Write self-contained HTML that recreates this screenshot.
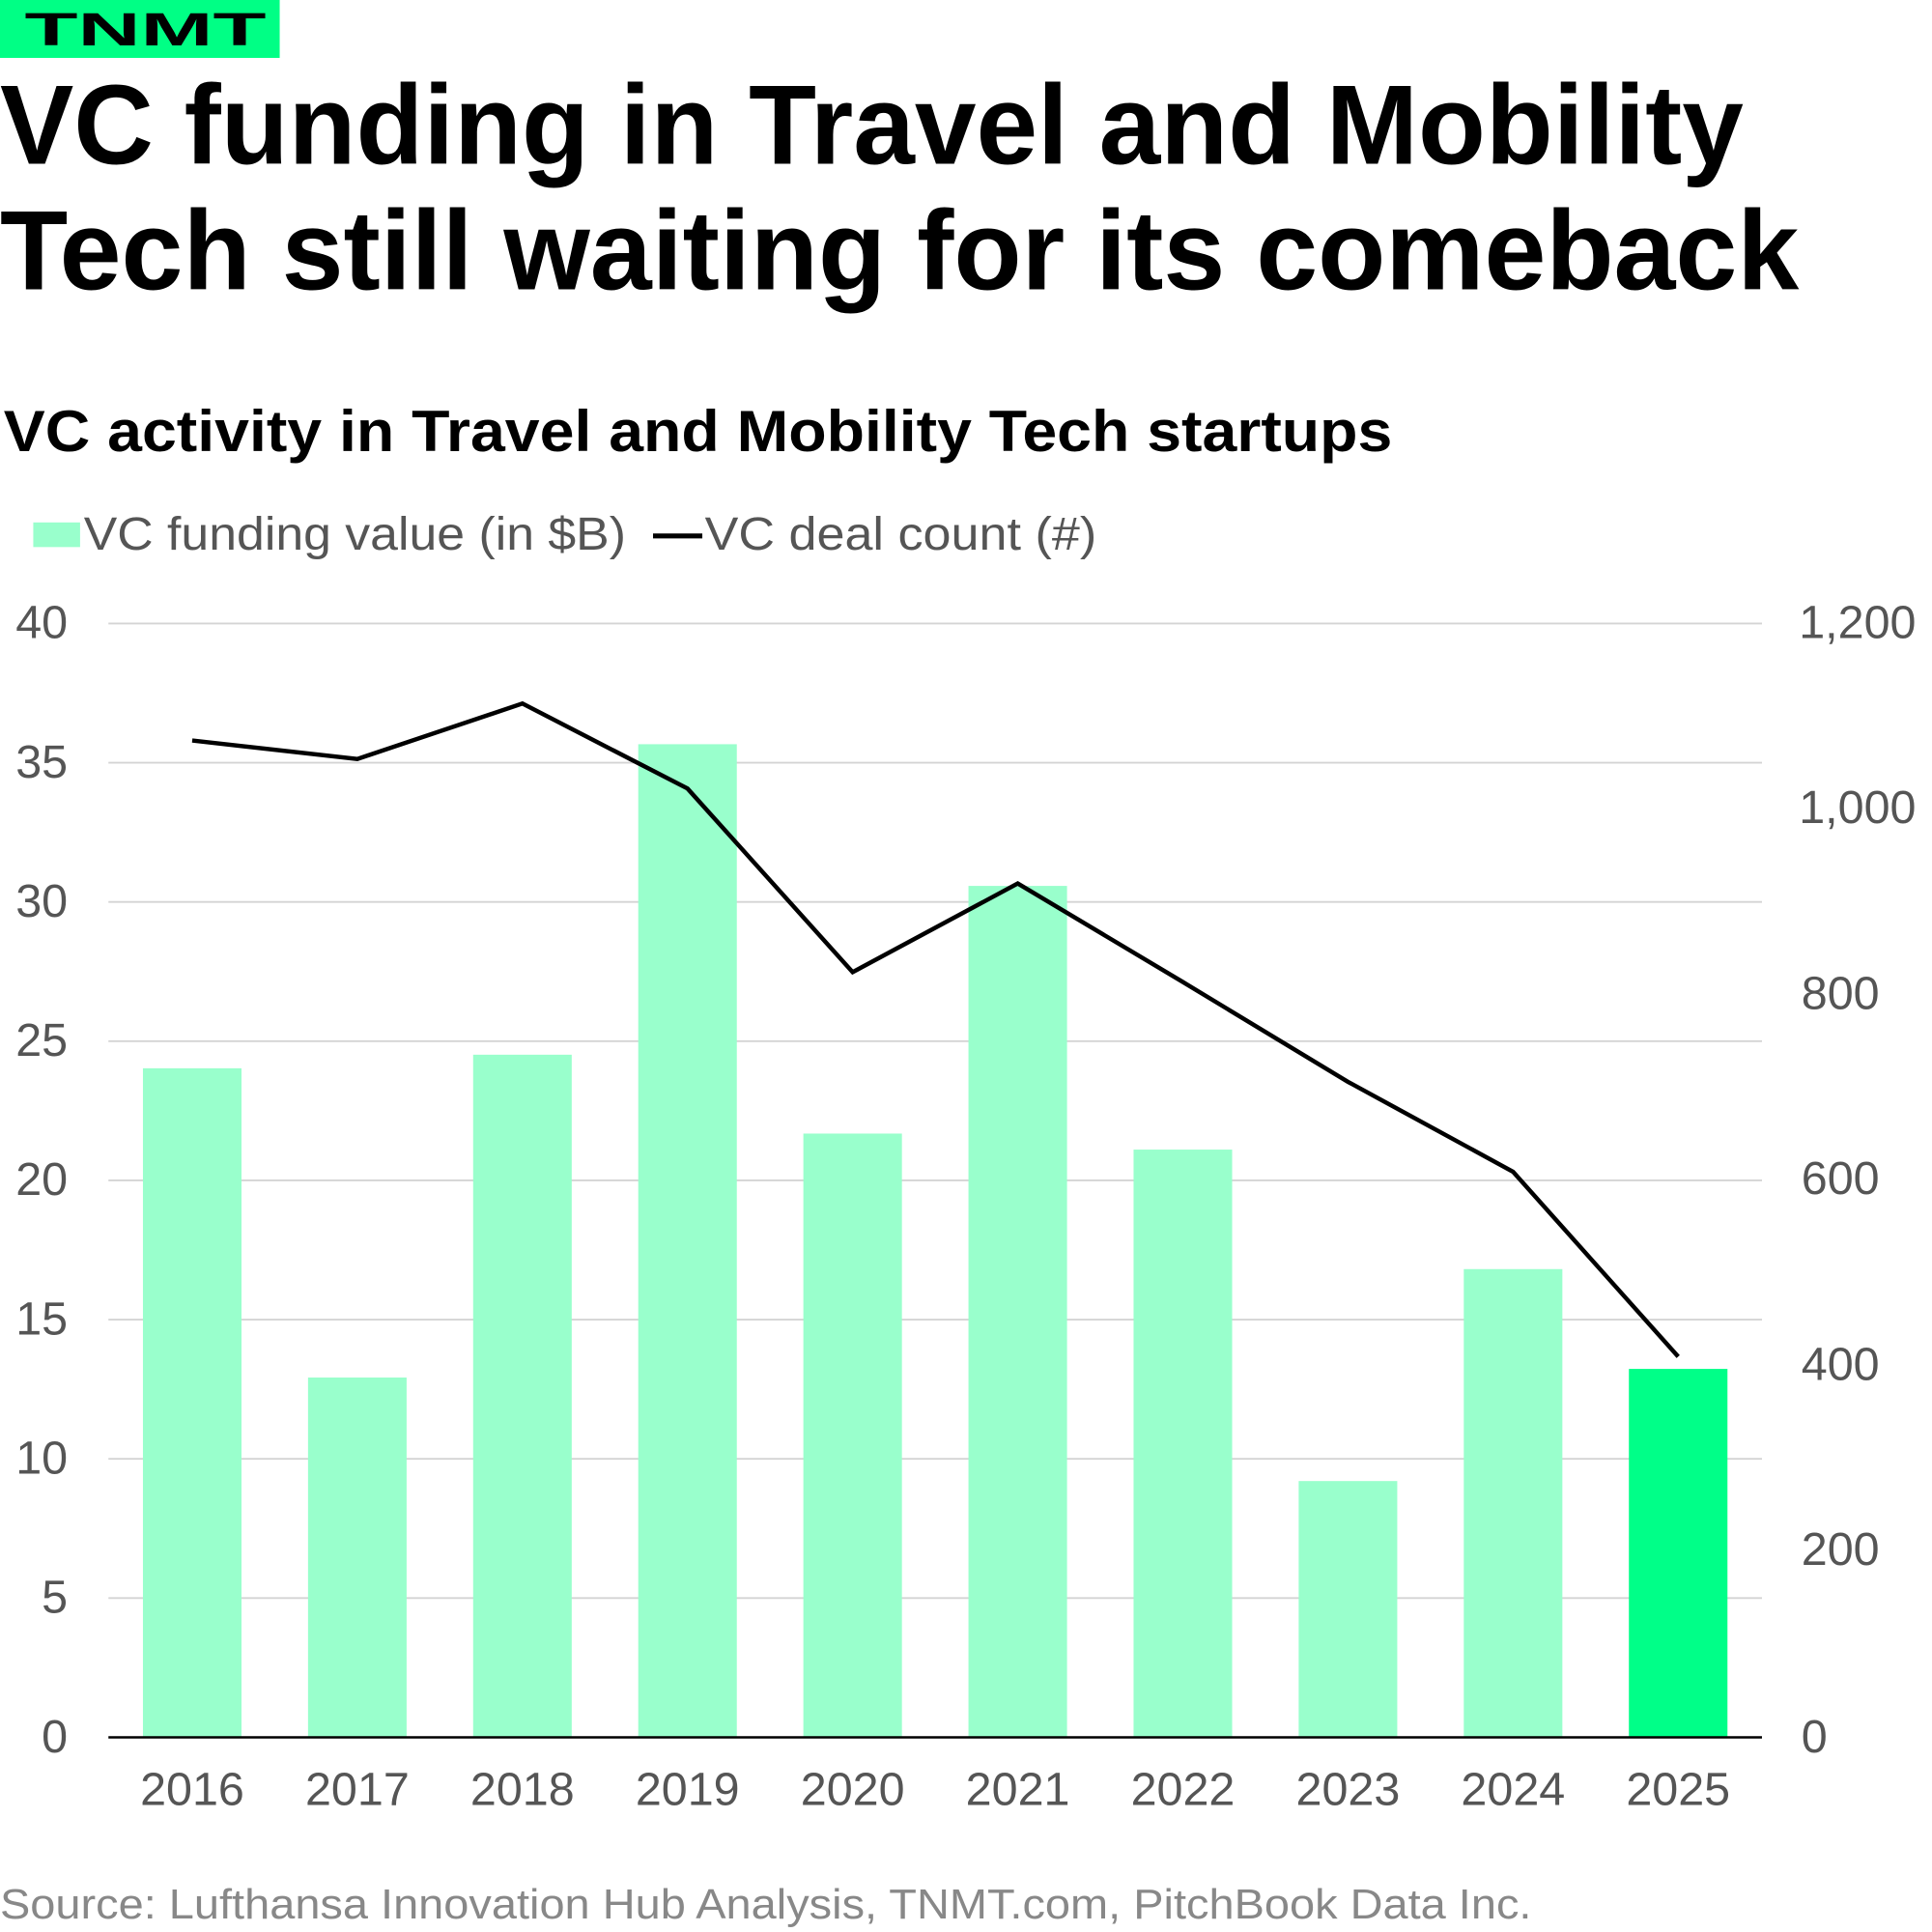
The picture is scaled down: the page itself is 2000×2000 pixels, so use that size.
<!DOCTYPE html>
<html><head><meta charset="utf-8"><style>html,body{margin:0;padding:0;background:#fff}svg{display:block}</style></head>
<body>
<svg width="2000" height="2000" viewBox="0 0 1568 1568" xmlns="http://www.w3.org/2000/svg" font-family="Liberation Sans, sans-serif">
<rect x="0" y="0" width="227" height="47" fill="#00ff85"/>
<text x="20" y="37" font-size="38" font-weight="bold" textLength="196" lengthAdjust="spacingAndGlyphs" fill="#000">TNMT</text>
<text x="0" y="133" font-size="92" font-weight="bold" textLength="1415" lengthAdjust="spacingAndGlyphs">VC funding in Travel and Mobility</text>
<text x="0" y="235" font-size="92" font-weight="bold" textLength="1460" lengthAdjust="spacingAndGlyphs">Tech still waiting for its comeback</text>
<text x="3" y="366" font-size="47" font-weight="bold" textLength="1127" lengthAdjust="spacingAndGlyphs">VC activity in Travel and Mobility Tech startups</text>
<rect x="27" y="424" width="38" height="20" fill="#99ffcc"/>
<text x="68" y="446" font-size="38" fill="#555" textLength="440" lengthAdjust="spacingAndGlyphs">VC funding value (in $B)</text>
<line x1="530" y1="435" x2="570" y2="435" stroke="#000" stroke-width="4"/>
<text x="572" y="446" font-size="38" fill="#555" textLength="318" lengthAdjust="spacingAndGlyphs">VC deal count (#)</text>
<g stroke="#d4d4d4" stroke-width="1.5">
<line x1="88" y1="506" x2="1430" y2="506"/><line x1="88" y1="619" x2="1430" y2="619"/>
<line x1="88" y1="732" x2="1430" y2="732"/><line x1="88" y1="845" x2="1430" y2="845"/>
<line x1="88" y1="958" x2="1430" y2="958"/><line x1="88" y1="1071" x2="1430" y2="1071"/>
<line x1="88" y1="1184" x2="1430" y2="1184"/><line x1="88" y1="1297" x2="1430" y2="1297"/>
</g>
<g fill="#99ffcc">
<rect x="116" y="867" width="80" height="543"/>
<rect x="250" y="1118" width="80" height="292"/>
<rect x="384" y="856" width="80" height="554"/>
<rect x="518" y="604" width="80" height="806"/>
<rect x="652" y="920" width="80" height="490"/>
<rect x="786" y="719" width="80" height="691"/>
<rect x="920" y="933" width="80" height="477"/>
<rect x="1054" y="1202" width="80" height="208"/>
<rect x="1188" y="1030" width="80" height="380"/>
</g>
<rect x="1322" y="1111" width="80" height="299" fill="#00ff88"/>
<line x1="88" y1="1410" x2="1430" y2="1410" stroke="#000" stroke-width="2"/>
<polyline fill="none" stroke="#000" stroke-width="3.5" points="156,601 290,616 424,571 558,640 692,789 826,717 960,797 1094,878 1228,951 1362,1101"/>
<g font-size="38" fill="#555" text-anchor="end">
<text x="55" y="518">40</text><text x="55" y="631">35</text><text x="55" y="744">30</text>
<text x="55" y="857">25</text><text x="55" y="970">20</text><text x="55" y="1083">15</text>
<text x="55" y="1196">10</text><text x="55" y="1309">5</text><text x="55" y="1422">0</text>
</g>
<g font-size="38" fill="#555">
<text x="1460" y="518">1,200</text><text x="1460" y="668">1,000</text><text x="1462" y="819">800</text>
<text x="1462" y="969">600</text><text x="1462" y="1120">400</text><text x="1462" y="1270">200</text>
<text x="1462" y="1422">0</text>
</g>
<g font-size="38" fill="#555" text-anchor="middle">
<text x="156" y="1465">2016</text><text x="290" y="1465">2017</text><text x="424" y="1465">2018</text>
<text x="558" y="1465">2019</text><text x="692" y="1465">2020</text><text x="826" y="1465">2021</text>
<text x="960" y="1465">2022</text><text x="1094" y="1465">2023</text><text x="1228" y="1465">2024</text>
<text x="1362" y="1465">2025</text>
</g>
<text x="0" y="1557" font-size="34" fill="#888" textLength="1243" lengthAdjust="spacingAndGlyphs">Source: Lufthansa Innovation Hub Analysis, TNMT.com, PitchBook Data Inc.</text>
</svg>
</body></html>
